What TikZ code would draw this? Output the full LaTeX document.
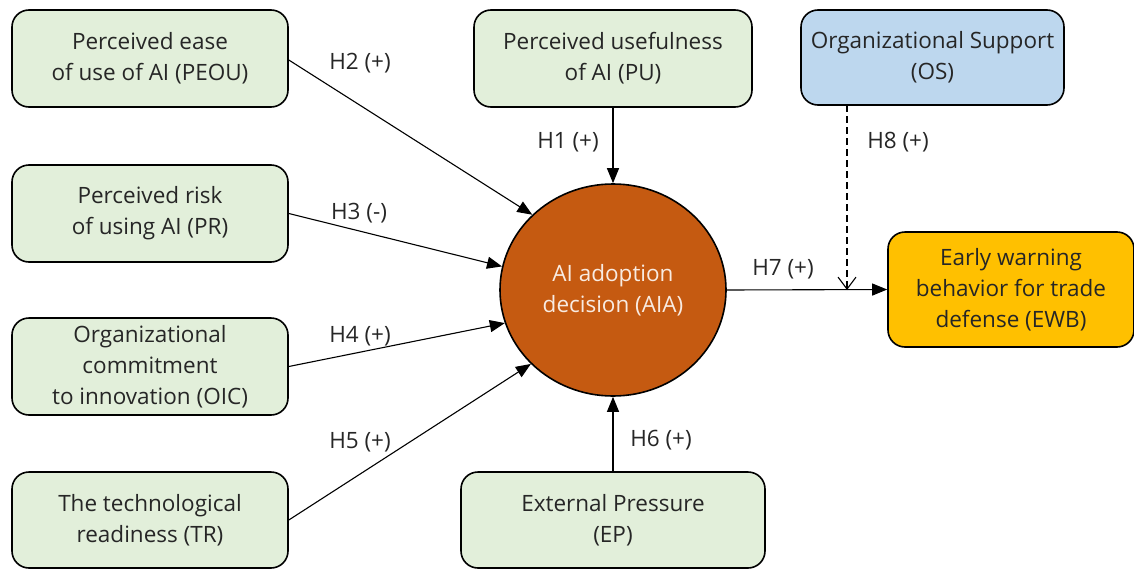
\documentclass[tikz,border=0pt]{standalone}
\usepackage{fontspec}
\setmainfont{Open Sans}
\usetikzlibrary{arrows.meta,shapes.geometric}
\definecolor{boxgreen}{HTML}{E2EFDA}
\definecolor{boxblue}{HTML}{BDD7EE}
\definecolor{boxgold}{HTML}{FFC000}
\definecolor{aiafill}{HTML}{C55A11}
\definecolor{txt}{HTML}{262626}
\tikzset{
  box/.style={draw=black, line width=1.6pt, rounded corners=17pt, fill=boxgreen,
    align=center, text=txt, inner sep=0pt,
    font=\fontsize{22.5}{31}\selectfont},
  hlab/.style={text=txt, font=\fontsize{22.5}{26}\selectfont, inner sep=0pt},
  conn/.style={draw=black, line width=1.1pt, -{Triangle[length=15pt,width=12pt]}},
  dconn/.style={draw=black, line width=1.1pt, dash pattern=on 7pt off 4pt,
    -{Straight Barb[length=12pt,width=18pt,line width=1.1pt]}}
}
\begin{document}
\begin{tikzpicture}[x=1pt,y=-1pt]
\useasboundingbox (0,0) rectangle (1134,570);
% nodes
\node[box, minimum width=276pt, minimum height=97pt] (peou) at (150,58.5) {Perceived ease\\of use of AI (PEOU)};
\node[box, minimum width=276pt, minimum height=97pt] (pr) at (150,213.5) {Perceived risk\\of using AI (PR)};
\node[box, minimum width=276pt, minimum height=97pt] (oic) at (150,366.5) {Organizational\\commitment\\to innovation (OIC)};
\node[box, minimum width=276pt, minimum height=96pt] (tr) at (150,520) {The technological\\readiness (TR)};
\node[box, minimum width=278pt, minimum height=97pt] (pu) at (613,58.5) {Perceived usefulness\\of AI (PU)};
\node[box, fill=boxblue, minimum width=263pt, minimum height=95pt] (os) at (932.5,57.5) {Organizational Support\\(OS)};
\node[box, minimum width=304pt, minimum height=96pt] (ep) at (613,520) {External Pressure\\(EP)};
\node[box, fill=boxgold, minimum width=246pt, minimum height=115pt] (ewb) at (1011,289.5) {Early warning\\behavior for trade\\defense (EWB)};
\node[ellipse, draw=black, line width=1.6pt, fill=aiafill, minimum width=226pt, minimum height=212pt,
  align=center, text=white!88!aiafill, inner sep=0pt, font=\fontsize{22.5}{31}\selectfont] (aia) at (613,290) {AI adoption\\decision (AIA)};
% connectors
\draw[conn] (peou.east |- 0,60) -- (aia.137);
\draw[conn] (pr.east) -- (aia.168);
\draw[conn] (oic.east) -- (aia.197);
\draw[conn] (tr.east) -- (aia.222);
\draw[conn] (pu.south) -- (aia.north);
\draw[conn] (ep.north) -- (aia.south);
\draw[conn] (aia.east) -- (ewb.west);
\coordinate (h8top) at (847,105);
\coordinate (h8end) at (847,290);
\draw[dconn] (h8top) -- (h8end);
% labels
\node[hlab] (l2) at (360,63) {H2 (+)};
\node[hlab] (l3) at (359,213) {H3 (-)};
\node[hlab] (l4) at (360,336) {H4 (+)};
\node[hlab] (l5) at (360,442) {H5 (+)};
\node[hlab] (l1) at (568,142) {H1 (+)};
\node[hlab] (l6) at (661,440) {H6 (+)};
\node[hlab] (l7) at (783,269) {H7 (+)};
\node[hlab] (l8) at (898,142) {H8 (+)};
\end{tikzpicture}
\end{document}
